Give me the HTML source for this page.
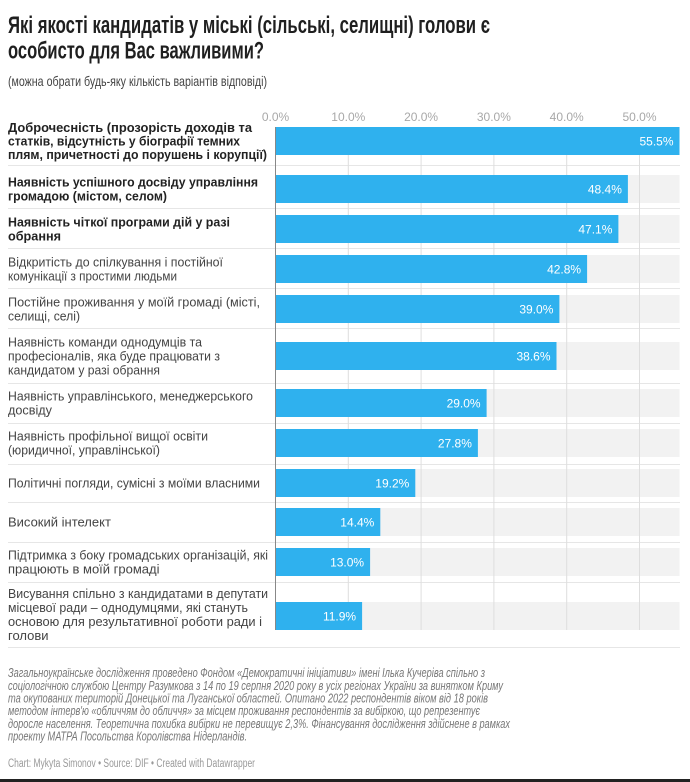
<!DOCTYPE html>
<html><head><meta charset="utf-8"><style>
html,body{margin:0;padding:0;background:#fff;}
svg{display:block;}
text{font-family:"Liberation Sans","DejaVu Sans",sans-serif;}
.t{font-weight:bold;font-size:24px;fill:#1f1f1f;}
.sub{font-size:14px;fill:#444;}
.tick{font-size:12px;fill:#a8a8a8;text-anchor:middle;}
.lb{font-size:12.5px;font-weight:bold;fill:#222;}
.lr{font-size:13px;fill:#444;}
.v{font-size:12px;fill:#fff;text-anchor:end;}
.f{font-size:12.5px;font-style:italic;fill:#777;}
.cr{font-size:11.5px;fill:#999;}
</style></head><body>
<svg width="690" height="782" viewBox="0 0 690 782" xmlns="http://www.w3.org/2000/svg">
<rect x="0" y="0" width="690" height="782" fill="#fff"/>
<text class="t" x="8" y="33" textLength="482" lengthAdjust="spacingAndGlyphs">Які якості кандидатів у міські (сільські, селищні) голови є</text>
<text class="t" x="8" y="58.5" textLength="256" lengthAdjust="spacingAndGlyphs">особисто для Вас важливими?</text>
<text class="sub" x="8" y="86" textLength="259" lengthAdjust="spacingAndGlyphs">(можна обрати будь-яку кількість варіантів відповіді)</text>

<text class="tick" x="275.5" y="121">0.0%</text>
<text class="tick" x="348.3" y="121">10.0%</text>
<text class="tick" x="421.1" y="121">20.0%</text>
<text class="tick" x="493.9" y="121">30.0%</text>
<text class="tick" x="566.7" y="121">40.0%</text>
<text class="tick" x="639.5" y="121">50.0%</text>

<g stroke="#e6e6e6" stroke-width="1">
<line x1="8" x2="680" y1="165.5" y2="165.5"/>
<line x1="8" x2="680" y1="208.5" y2="208.5"/>
<line x1="8" x2="680" y1="248.5" y2="248.5"/>
<line x1="8" x2="680" y1="288.5" y2="288.5"/>
<line x1="8" x2="680" y1="328.5" y2="328.5"/>
<line x1="8" x2="680" y1="383.5" y2="383.5"/>
<line x1="8" x2="680" y1="423.5" y2="423.5"/>
<line x1="8" x2="680" y1="464.5" y2="464.5"/>
<line x1="8" x2="680" y1="502.5" y2="502.5"/>
<line x1="8" x2="680" y1="542.5" y2="542.5"/>
<line x1="8" x2="680" y1="582.5" y2="582.5"/>
<line x1="8" x2="680" y1="647.5" y2="647.5"/>
</g>

<g fill="#f2f2f2">
<rect x="275.5" y="127" width="404" height="28"/>
<rect x="275.5" y="175" width="404" height="28"/>
<rect x="275.5" y="215" width="404" height="28"/>
<rect x="275.5" y="255" width="404" height="28"/>
<rect x="275.5" y="295" width="404" height="28"/>
<rect x="275.5" y="342" width="404" height="28"/>
<rect x="275.5" y="389" width="404" height="28"/>
<rect x="275.5" y="429" width="404" height="28"/>
<rect x="275.5" y="469" width="404" height="28"/>
<rect x="275.5" y="508" width="404" height="28"/>
<rect x="275.5" y="548" width="404" height="28"/>
<rect x="275.5" y="602" width="404" height="28"/>
</g>

<g stroke="#dedede" stroke-width="1">
<line x1="348.3" x2="348.3" y1="127" y2="630"/>
<line x1="421.1" x2="421.1" y1="127" y2="630"/>
<line x1="493.9" x2="493.9" y1="127" y2="630"/>
<line x1="566.7" x2="566.7" y1="127" y2="630"/>
<line x1="639.5" x2="639.5" y1="127" y2="630"/>
</g>

<g fill="#2fb1ee">
<rect x="275.5" y="127" width="404.0" height="28"/>
<rect x="275.5" y="175" width="352.4" height="28"/>
<rect x="275.5" y="215" width="342.9" height="28"/>
<rect x="275.5" y="255" width="311.6" height="28"/>
<rect x="275.5" y="295" width="283.9" height="28"/>
<rect x="275.5" y="342" width="281.0" height="28"/>
<rect x="275.5" y="389" width="211.1" height="28"/>
<rect x="275.5" y="429" width="202.4" height="28"/>
<rect x="275.5" y="469" width="139.8" height="28"/>
<rect x="275.5" y="508" width="104.8" height="28"/>
<rect x="275.5" y="548" width="94.6" height="28"/>
<rect x="275.5" y="602" width="86.6" height="28"/>
</g>
<line x1="275.5" x2="275.5" y1="127" y2="630" stroke="#888" stroke-width="1"/>

<text class="v" x="673.5" y="145.5">55.5%</text>
<text class="v" x="621.9" y="193.5">48.4%</text>
<text class="v" x="612.4" y="233.5">47.1%</text>
<text class="v" x="581.1" y="273.5">42.8%</text>
<text class="v" x="553.4" y="313.5">39.0%</text>
<text class="v" x="550.5" y="360.5">38.6%</text>
<text class="v" x="480.6" y="407.5">29.0%</text>
<text class="v" x="471.9" y="447.5">27.8%</text>
<text class="v" x="409.3" y="487.5">19.2%</text>
<text class="v" x="374.3" y="526.5">14.4%</text>
<text class="v" x="364.1" y="566.5">13.0%</text>
<text class="v" x="356.1" y="620.5">11.9%</text>

<text class="lb" x="8" y="132" textLength="244" lengthAdjust="spacingAndGlyphs">Доброчесність (прозорість доходів та</text>
<text class="lb" x="8" y="145.5" textLength="232" lengthAdjust="spacingAndGlyphs">статків, відсутність у біографії темних</text>
<text class="lb" x="8" y="159" textLength="259" lengthAdjust="spacingAndGlyphs">плям, причетності до порушень і корупції)</text>

<text class="lb" x="8" y="186.5" textLength="250" lengthAdjust="spacingAndGlyphs">Наявність успішного досвіду управління</text>
<text class="lb" x="8" y="200.5" textLength="159" lengthAdjust="spacingAndGlyphs">громадою (містом, селом)</text>

<text class="lb" x="8" y="226.5" textLength="222" lengthAdjust="spacingAndGlyphs">Наявність чіткої програми дій у разі</text>
<text class="lb" x="8" y="240.5" textLength="53" lengthAdjust="spacingAndGlyphs">обрання</text>

<text class="lr" x="8" y="266.5" textLength="215" lengthAdjust="spacingAndGlyphs">Відкритість до спілкування і постійної</text>
<text class="lr" x="8" y="280.5" textLength="169" lengthAdjust="spacingAndGlyphs">комунікації з простими людьми</text>

<text class="lr" x="8" y="306.5" textLength="252" lengthAdjust="spacingAndGlyphs">Постійне проживання у моїй громаді (місті,</text>
<text class="lr" x="8" y="320.5" textLength="72" lengthAdjust="spacingAndGlyphs">селищі, селі)</text>

<text class="lr" x="8" y="346.5" textLength="194" lengthAdjust="spacingAndGlyphs">Наявність команди однодумців та</text>
<text class="lr" x="8" y="360.5" textLength="212" lengthAdjust="spacingAndGlyphs">професіоналів, яка буде працювати з</text>
<text class="lr" x="8" y="374.5" textLength="152" lengthAdjust="spacingAndGlyphs">кандидатом у разі обрання</text>

<text class="lr" x="8" y="400.5" textLength="245" lengthAdjust="spacingAndGlyphs">Наявність управлінського, менеджерського</text>
<text class="lr" x="8" y="414.5" textLength="44" lengthAdjust="spacingAndGlyphs">досвіду</text>

<text class="lr" x="8" y="440.5" textLength="200" lengthAdjust="spacingAndGlyphs">Наявність профільної вищої освіти</text>
<text class="lr" x="8" y="454.5" textLength="152" lengthAdjust="spacingAndGlyphs">(юридичної, управлінської)</text>

<text class="lr" x="8" y="487.5" textLength="252" lengthAdjust="spacingAndGlyphs">Політичні погляди, сумісні з моїми власними</text>

<text class="lr" x="8" y="526.5">Високий інтелект</text>

<text class="lr" x="8" y="559.5" textLength="260" lengthAdjust="spacingAndGlyphs">Підтримка з боку громадських організацій, які</text>
<text class="lr" x="8" y="573.5">працюють в моїй громаді</text>

<text class="lr" x="8" y="598" textLength="260" lengthAdjust="spacingAndGlyphs">Висування спільно з кандидатами в депутати</text>
<text class="lr" x="8" y="612" textLength="240" lengthAdjust="spacingAndGlyphs">місцевої ради – однодумцями, які стануть</text>
<text class="lr" x="8" y="626" textLength="254" lengthAdjust="spacingAndGlyphs">основою для результативної роботи ради і</text>
<text class="lr" x="8" y="640">голови</text>

<text class="f" x="8" y="677" textLength="477" lengthAdjust="spacingAndGlyphs">Загальноукраїнське дослідження проведено Фондом «Демократичні ініціативи» імені Ілька Кучеріва спільно з</text>
<text class="f" x="8" y="690" textLength="495" lengthAdjust="spacingAndGlyphs">соціологічною службою Центру Разумкова з 14 по 19 серпня 2020 року в усіх регіонах України за винятком Криму</text>
<text class="f" x="8" y="702.5" textLength="480" lengthAdjust="spacingAndGlyphs">та окупованих територій Донецької та Луганської областей. Опитано 2022 респондентів віком від 18 років</text>
<text class="f" x="8" y="715" textLength="472" lengthAdjust="spacingAndGlyphs">методом інтерв'ю «обличчям до обличчя» за місцем проживання респондентів за вибіркою, що репрезентує</text>
<text class="f" x="8" y="728" textLength="502" lengthAdjust="spacingAndGlyphs">доросле населення. Теоретична похибка вибірки не перевищує 2,3%. Фінансування дослідження здійснене в рамках</text>
<text class="f" x="8" y="740.5" textLength="239" lengthAdjust="spacingAndGlyphs">проекту МАТРА Посольства Королівства Нідерландів.</text>
<text class="cr" x="8" y="767" textLength="247" lengthAdjust="spacingAndGlyphs">Chart: Mykyta Simonov • Source: DIF • Created with Datawrapper</text>

<rect x="0" y="779" width="690" height="3" fill="#222"/>
</svg>
</body></html>
